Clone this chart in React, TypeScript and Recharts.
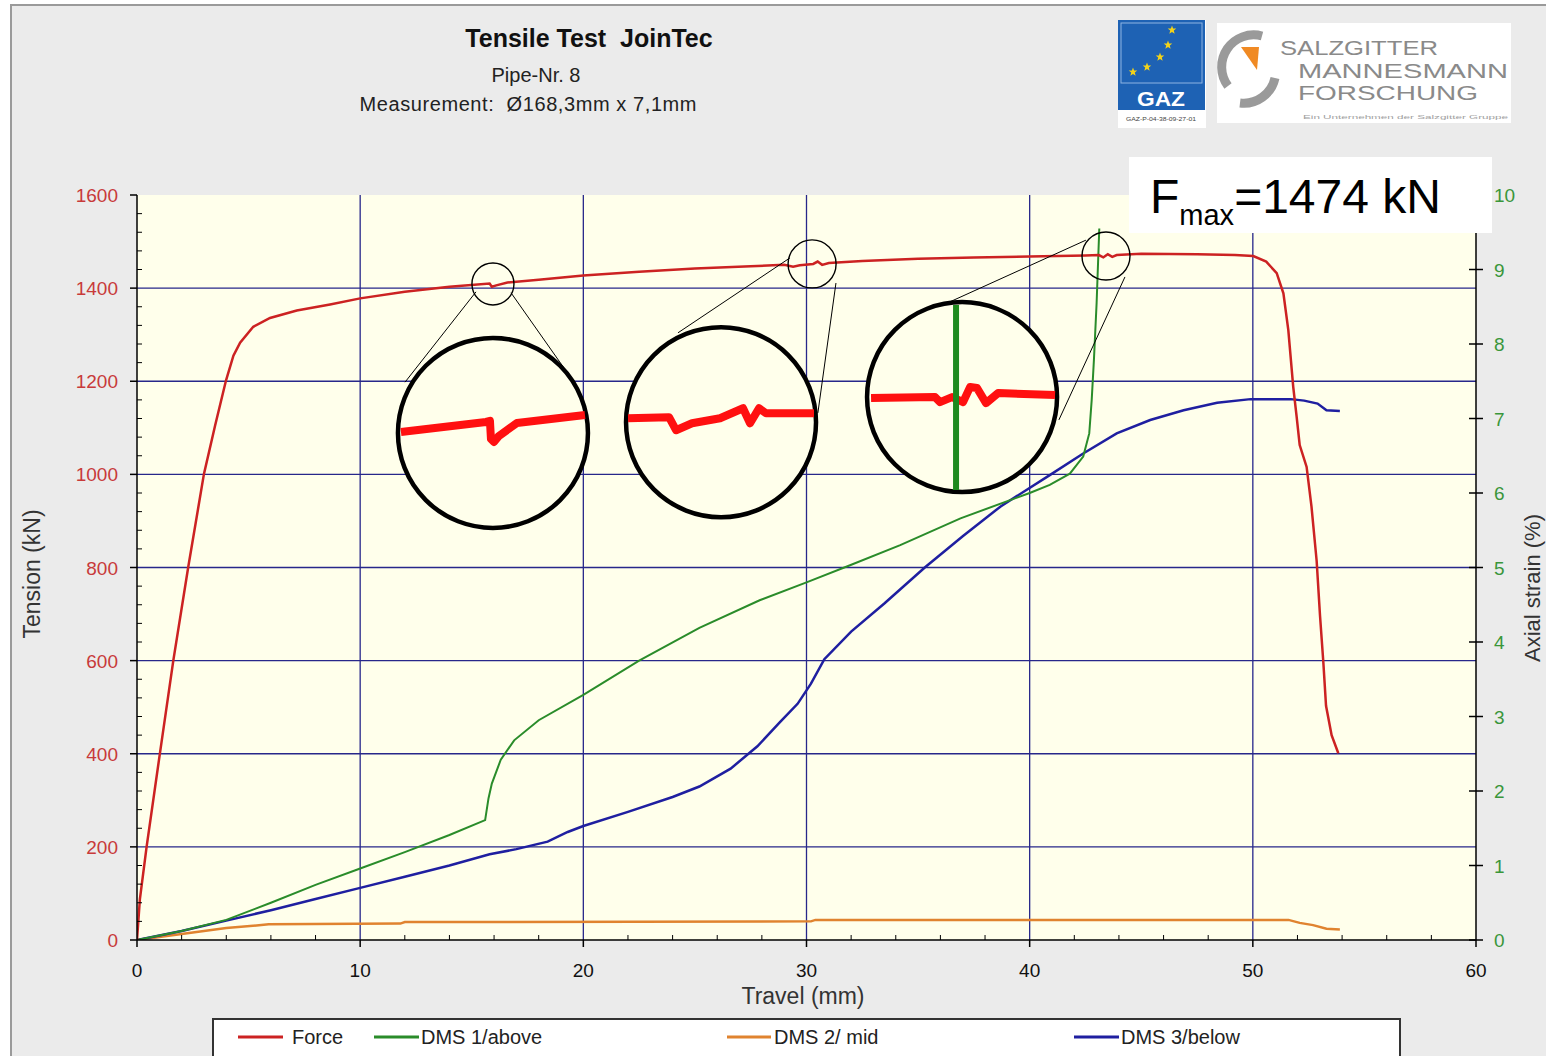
import React from 'react';
import { LineChart, Line, XAxis, YAxis, CartesianGrid, ReferenceDot, ReferenceLine } from 'recharts';

const W = 1546;
const H = 1056;
const FONT = '"Liberation Sans", Arial, sans-serif';

// axes
const travelTicks = [0, 10, 20, 30, 40, 50, 60];
const tensionTicks = [0, 200, 400, 600, 800, 1000, 1200, 1400, 1600];
const strainTicks = [0, 1, 2, 3, 4, 5, 6, 7, 8, 9, 10];
const travelGrid = [10, 20, 30, 40, 50];
const tensionGrid = [200, 400, 600, 800, 1000, 1200, 1400];
const travelMinor = Array.from({ length: 31 }, (_, i) => i * 2);
const tensionMinor = Array.from({ length: 41 }, (_, i) => i * 40);

// Force (kN) vs travel (mm)
const forceTravel = [0, 0.13, 0.43, 1.03, 1.63, 2.3, 3.0, 3.5, 3.99, 4.32, 4.62, 5.21, 5.96, 7.16, 8.65, 10, 12, 14, 15.8, 15.9, 16.1, 16.6, 18, 20, 22.5, 25, 27.5, 29, 29.4, 29.7, 30.3, 30.5, 30.7, 31, 32.5, 35, 37.5, 40, 42.5, 43.1, 43.3, 43.5, 43.7, 43.9, 45, 47.5, 49.2, 50.02, 50.6, 51.07, 51.37, 51.59, 51.81, 51.96, 52.1, 52.41, 52.63, 52.86, 53.01, 53.16, 53.28, 53.53, 53.83];
const forceKN = [0, 88, 200, 402, 601, 802, 1001, 1105, 1202, 1255, 1283, 1317, 1336, 1352, 1365, 1378, 1392, 1403, 1410, 1403, 1406, 1412, 1418, 1427, 1435, 1442, 1447, 1450, 1446, 1449, 1452, 1457, 1450, 1454, 1458, 1463, 1466, 1468, 1470, 1471, 1466, 1473, 1467, 1471, 1474, 1473, 1471, 1469, 1457, 1432, 1389, 1310, 1188, 1125, 1063, 1016, 930, 814, 697, 596, 503, 440, 401];

// DMS 1/above (%)
const dms1Travel = [0, 2, 4, 6, 8, 10, 12, 14, 15.6, 15.75, 15.9, 16.3, 16.9, 18, 20, 22.5, 25.2, 27.9, 30, 31.95, 34.2, 36.9, 40, 40.9, 41.8, 42.4, 42.67, 42.78, 42.88, 43.0, 43.08, 43.12];
const dms1Strain = [0, 0.12, 0.27, 0.5, 0.74, 0.96, 1.18, 1.41, 1.61, 1.9, 2.1, 2.42, 2.68, 2.95, 3.29, 3.75, 4.19, 4.56, 4.8, 5.03, 5.3, 5.66, 6.0, 6.11, 6.26, 6.49, 6.8, 7.25, 7.79, 8.55, 9.22, 9.55];

// DMS 2/ mid (%)
const dms2Travel = [0, 2, 4, 5.9, 11.8, 12, 30.2, 30.4, 51.6, 52.1, 52.7, 53.3, 53.9];
const dms2Strain = [0, 0.08, 0.16, 0.21, 0.22, 0.24, 0.25, 0.27, 0.27, 0.23, 0.2, 0.15, 0.14];

// DMS 3/below (%)
const dms3Travel = [0, 2, 4, 6, 8, 10, 12, 14, 15.8, 17, 18.4, 19.3, 20, 22, 24, 25.2, 26.6, 27.8, 28.8, 29.6, 30.2, 30.8, 32, 33.5, 35.3, 37, 38.7, 40.9, 42.4, 43.9, 45.4, 46.9, 48.4, 49.9, 51.7, 52.3, 52.9, 53.3, 53.9];
const dms3Strain = [0, 0.12, 0.26, 0.4, 0.55, 0.7, 0.85, 1.0, 1.15, 1.22, 1.32, 1.45, 1.53, 1.72, 1.92, 2.06, 2.3, 2.6, 2.92, 3.17, 3.44, 3.77, 4.14, 4.52, 5.0, 5.42, 5.82, 6.24, 6.53, 6.8, 6.98, 7.11, 7.21, 7.26, 7.26, 7.24, 7.2, 7.11, 7.1];

// zoom annotations: small ring on the curve, lens below it
const spotTravel = [15.95, 30.25, 43.42];
const spotTension = [1409, 1452, 1469];
const lensTravel = [15.95, 26.17, 36.97];
const lensTension = [1089, 1112, 1166];
const connectors = [
  [[15.19, 1392], [12.01, 1198]],
  [[16.76, 1390], [19.58, 1198]],
  [[29.26, 1465], [24.24, 1304]],
  [[31.32, 1411], [30.51, 1132]],
  [[42.52, 1503], [35.62, 1353]],
  [[44.27, 1424], [41.31, 1117]],
];
// magnified curve shapes inside each lens (px offsets from lens centre)
const lensProfiles = [
  [[-92, -1], [-7, -11], [-3, -12], [-2, 6], [1, 9], [6, 3], [24, -10], [92, -18]],
  [[-93, -4], [-52, -5], [-45, 8], [-29, 1], [-1, -4], [22, -14], [29, 1], [38, -14], [45, -9], [93, -9]],
  [[-91, 1], [-27, 0], [-22, 5], [-10, 0], [1, 5], [8, -10], [15, -9], [24, 6], [36, -4], [93, -2]],
];

const forceData = forceTravel.map((t, i) => ({ t, v: forceKN[i] }));
const dms1Data = dms1Travel.map((t, i) => ({ t, v: dms1Strain[i] }));
const dms2Data = dms2Travel.map((t, i) => ({ t, v: dms2Strain[i] }));
const dms3Data = dms3Travel.map((t, i) => ({ t, v: dms3Strain[i] }));

const RED = '#CC2222';
const GREEN = '#2A8C2A';
const ORANGE = '#E0832F';
const BLUE = '#1F1FA0';
const GRID = '#27278A';

const TensionTick = (props: any) => {
  const { x, y, payload } = props;
  const v = payload.value;
  if (v % 200 !== 0) return <line x1={x} x2={x + 5} y1={y} y2={y} stroke="#000" strokeWidth={1} />;
  return (
    <g>
      <line x1={x - 7} x2={x} y1={y} y2={y} stroke="#000" strokeWidth={1.5} />
      <text x={x - 19} y={y + 7} textAnchor="end" fill="#C83A3A" fontSize={19} fontFamily={FONT}>{v}</text>
    </g>
  );
};

const TravelTick = (props: any) => {
  const { x, y, payload } = props;
  const v = payload.value;
  if (v % 10 !== 0) return <line x1={x} x2={x} y1={y} y2={y - 5} stroke="#000" strokeWidth={1} />;
  return (
    <g>
      <line x1={x} x2={x} y1={y} y2={y + 7} stroke="#000" strokeWidth={1.5} />
      <text x={x} y={y + 37} textAnchor="middle" fill="#111" fontSize={19} fontFamily={FONT}>{v}</text>
    </g>
  );
};

const StrainTick = (props: any) => {
  const { x, y, payload } = props;
  return (
    <g>
      <line x1={x - 7} x2={x + 7} y1={y} y2={y} stroke="#000" strokeWidth={1.5} />
      <text x={x + 18} y={y + 7} textAnchor="start" fill="#3A963A" fontSize={19} fontFamily={FONT}>{payload.value}</text>
    </g>
  );
};

const Lens = (props: any) => {
  const { cx, cy, idx } = props;
  const pts = lensProfiles[idx].map(([dx, dy]) => `${cx + dx},${cy + dy}`).join(' ');
  return (
    <g>
      <circle cx={cx} cy={cy} r={95} fill="#FFFFEB" stroke="#000" strokeWidth={4.5} />
      <polyline points={pts} fill="none" stroke="#FF1010" strokeWidth={8} strokeLinejoin="round" />
      {idx === 2 && <line x1={cx - 6} x2={cx - 6} y1={cy - 92} y2={cy + 93} stroke="#1E8A1E" strokeWidth={6} />}
    </g>
  );
};

const Spot = (props: any) => {
  const { cx, cy, idx } = props;
  return <circle cx={cx} cy={cy} r={idx === 0 ? 21 : 24} fill="none" stroke="#000" strokeWidth={1.4} />;
};

const stars = [[54, 10], [50, 25], [42, 37], [29, 47], [15, 52]];

const Star = ({ x, y }: { x: number; y: number }) => {
  const p: string[] = [];
  for (let i = 0; i < 10; i++) {
    const r = i % 2 === 0 ? 4.5 : 1.9;
    const a = -Math.PI / 2 + (i * Math.PI) / 5;
    p.push(`${x + r * Math.cos(a)},${y + r * Math.sin(a)}`);
  }
  return <polygon points={p.join(' ')} fill="#F2D21A" />;
};

export default function App() {
  return (
    <div style={{ position: 'absolute', left: 0, top: 0, width: W, height: H, overflow: 'hidden', fontFamily: FONT }}>
      <svg width={W} height={H} style={{ position: 'absolute', left: 0, top: 0 }}>
        <rect x={11} y={5} width={1560} height={1080} fill="#EBEBEB" stroke="#9A9A9A" strokeWidth={2} />
        <text x={589} y={47} textAnchor="middle" fontSize={25} fontWeight="bold" fill="#111">{'Tensile Test\u00A0\u00A0JoinTec'}</text>
        <text x={536} y={82} textAnchor="middle" fontSize={20} fill="#222">Pipe-Nr. 8</text>
        <text x={528} y={111} textAnchor="middle" fontSize={20} fill="#222" textLength={337} lengthAdjust="spacing">{'Measurement:\u00A0 Ø168,3mm x 7,1mm'}</text>

        {/* GAZ logo */}
        <g transform="translate(1118,20)">
          <rect x={0} y={0} width={88} height={108} fill="#FFFFFF" />
          <rect x={0} y={0} width={87} height={90} fill="#1E62B4" />
          <rect x={3} y={3} width={81} height={60} fill="none" stroke="#8DB3E2" strokeWidth={1} />
          {stars.map(([sx, sy], i) => <Star key={i} x={sx} y={sy} />)}
          <text x={43} y={86} textAnchor="middle" fontSize={21} fontWeight="bold" fill="#FFFFFF" textLength={48} lengthAdjust="spacingAndGlyphs">GAZ</text>
          <text x={43} y={101} textAnchor="middle" fontSize={6} fill="#444" textLength={70} lengthAdjust="spacingAndGlyphs">GAZ-P-04-38-09-27-01</text>
        </g>

        {/* Salzgitter logo */}
        <g>
          <rect x={1217} y={23} width={294} height={100} fill="#FFFFFF" />
          <path d="M 1262 36 A 32 32 0 0 0 1228 86" fill="none" stroke="#9A9A9A" strokeWidth={9} />
          <path d="M 1275 78 A 32 32 0 0 1 1240 103" fill="none" stroke="#9A9A9A" strokeWidth={9} />
          <polygon points="1241,47 1259,47 1257,70" fill="#F08A24" />
          <text x={1280} y={55} fontSize={20} fill="#8A8A8A" textLength={158} lengthAdjust="spacingAndGlyphs">SALZGITTER</text>
          <text x={1298} y={77.5} fontSize={20} fill="#8A8A8A" textLength={210} lengthAdjust="spacingAndGlyphs">MANNESMANN</text>
          <text x={1298} y={100} fontSize={20} fill="#8A8A8A" textLength={180} lengthAdjust="spacingAndGlyphs">FORSCHUNG</text>
          <text x={1303} y={119} fontSize={6} fill="#A0A0A0" textLength={205} lengthAdjust="spacingAndGlyphs">Ein Unternehmen der Salzgitter Gruppe</text>
        </g>

        <text x={0} y={0} transform="translate(40,574) rotate(-90)" textAnchor="middle" fontSize={23} fill="#333">Tension (kN)</text>
        <text x={803} y={1004} textAnchor="middle" fontSize={23} fill="#333">Travel (mm)</text>
        <text x={0} y={0} transform="translate(1540,588) rotate(-90)" textAnchor="middle" fontSize={22} fill="#333">Axial strain (%)</text>
      </svg>

      <div style={{ position: 'absolute', left: 0, top: 0 }}>
        <LineChart width={W} height={H} margin={{ top: 195, right: 20, bottom: 86, left: 57 }}>
          <CartesianGrid
            fill="#FFFFEB"
            stroke={GRID}
            strokeWidth={1.3}
            horizontalValues={tensionGrid}
            verticalValues={travelGrid}
          />
          <XAxis
            dataKey="t"
            type="number"
            domain={[0, 60]}
            ticks={travelMinor}
            interval={0}
            height={30}
            tickLine={false}
            tickSize={0}
            tickMargin={0}
            axisLine={{ stroke: '#000', strokeWidth: 1.5 }}
            tick={(p: any) => <TravelTick {...p} />}
            allowDataOverflow
          />
          <YAxis
            type="number"
            domain={[0, 1600]}
            ticks={tensionMinor}
            interval={0}
            width={80}
            tickLine={false}
            tickSize={0}
            tickMargin={0}
            axisLine={{ stroke: '#000', strokeWidth: 1.5 }}
            tick={(p: any) => <TensionTick {...p} />}
            allowDataOverflow
          />
          <YAxis
            yAxisId="strain"
            orientation="right"
            type="number"
            domain={[0, 10]}
            ticks={strainTicks}
            interval={0}
            width={50}
            tickLine={false}
            tickSize={0}
            tickMargin={0}
            axisLine={{ stroke: '#000', strokeWidth: 1.5 }}
            tick={(p: any) => <StrainTick {...p} />}
            allowDataOverflow
          />
          <Line data={dms2Data} dataKey="v" yAxisId="strain" type="linear" stroke={ORANGE} strokeWidth={2.5} dot={false} isAnimationActive={false} />
          <Line data={dms3Data} dataKey="v" yAxisId="strain" type="linear" stroke={BLUE} strokeWidth={2.5} dot={false} isAnimationActive={false} />
          <Line data={dms1Data} dataKey="v" yAxisId="strain" type="linear" stroke={GREEN} strokeWidth={2} dot={false} isAnimationActive={false} />
          <Line data={forceData} dataKey="v" type="linear" stroke={RED} strokeWidth={2.5} dot={false} isAnimationActive={false} />
          {connectors.map((seg, i) => (
            <ReferenceLine
              key={'c' + i}
              segment={[{ x: seg[0][0], y: seg[0][1] }, { x: seg[1][0], y: seg[1][1] }]}
              stroke="#000"
              strokeWidth={1}
              ifOverflow="visible"
            />
          ))}
          {spotTravel.map((t, i) => (
            <ReferenceDot key={'s' + i} x={t} y={spotTension[i]} r={22} ifOverflow="visible" shape={(p: any) => <Spot {...p} idx={i} />} />
          ))}
          {lensTravel.map((t, i) => (
            <ReferenceDot key={'l' + i} x={t} y={lensTension[i]} r={95} ifOverflow="visible" shape={(p: any) => <Lens {...p} idx={i} />} />
          ))}
        </LineChart>
      </div>

      <svg width={W} height={H} style={{ position: 'absolute', left: 0, top: 0, pointerEvents: 'none' }}>
        <rect x={1129} y={157} width={363} height={76} fill="#FFFFFF" />
        <text x={1150} y={213} fontSize={48} fill="#000">
          F<tspan fontSize={29} dy={12}>max</tspan><tspan dy={-12}>=1474 kN</tspan>
        </text>

        <rect x={213} y={1019} width={1187} height={60} fill="#FFFFFF" stroke="#333" strokeWidth={2} />
        <line x1={238} x2={283} y1={1037} y2={1037} stroke={RED} strokeWidth={3} />
        <text x={292} y={1044} fontSize={20} fill="#222">Force</text>
        <line x1={374} x2={419} y1={1037} y2={1037} stroke={GREEN} strokeWidth={3} />
        <text x={421} y={1044} fontSize={20} fill="#222">DMS 1/above</text>
        <line x1={727} x2={771} y1={1037} y2={1037} stroke={ORANGE} strokeWidth={3} />
        <text x={774} y={1044} fontSize={20} fill="#222">DMS 2/ mid</text>
        <line x1={1074} x2={1119} y1={1037} y2={1037} stroke={BLUE} strokeWidth={3} />
        <text x={1121} y={1044} fontSize={20} fill="#222">DMS 3/below</text>
      </svg>
    </div>
  );
}
